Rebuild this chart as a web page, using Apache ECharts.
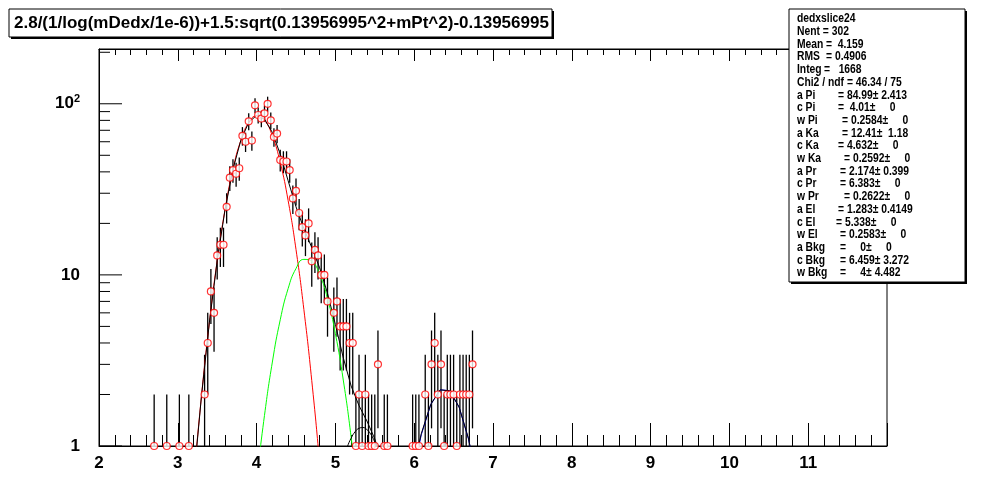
<!DOCTYPE html>
<html>
<head>
<meta charset="utf-8">
<title>dedxslice24</title>
<script src="https://cdn.jsdelivr.net/npm/echarts@6/dist/echarts.min.js"></script>
<style>
  html, body { margin: 0; padding: 0; background: #fff; }
  #chart { width: 986px; height: 497px; }
</style>
</head>
<body>
<div id="chart"></div>
<script>
// histogram dedxslice24, bin width 0.04, empty bins left out
const binCenters = [2.70, 2.86, 3.02, 3.14, 3.34, 3.38, 3.42, 3.46, 3.50, 3.54, 3.58, 3.62, 3.66, 3.70, 3.74, 3.78,
  3.82, 3.86, 3.90, 3.94, 3.98, 4.02, 4.06, 4.10, 4.14, 4.18, 4.22, 4.26, 4.30, 4.34, 4.38, 4.42, 4.46, 4.50,
  4.54, 4.58, 4.62, 4.66, 4.70, 4.74, 4.78, 4.82, 4.86, 4.90, 4.98, 5.02, 5.06, 5.10, 5.14, 5.18, 5.22, 5.26,
  5.30, 5.34, 5.38, 5.42, 5.46, 5.50, 5.54, 5.62, 5.66, 5.98, 6.02, 6.06, 6.14, 6.18, 6.22, 6.26, 6.30, 6.34,
  6.38, 6.42, 6.46, 6.50, 6.54, 6.58, 6.62, 6.66, 6.70, 6.74];
const binCounts = [1, 1, 1, 1, 2, 4, 8, 6, 13, 15, 15, 25, 37, 41, 39, 42,
  65, 60, 79, 61, 98, 86, 82, 88, 100, 80, 64, 67, 47, 46, 46, 41, 28, 31,
  23, 19, 17, 20, 12, 14, 13, 10, 10, 7, 6, 7, 5, 5, 5, 4, 4, 1,
  2, 1, 2, 1, 1, 1, 3, 1, 1, 1, 1, 1, 2, 1, 3, 4, 2, 3,
  1, 2, 2, 2, 1, 2, 2, 2, 2, 3];

// fit curves
const totalX = [3.2, 3.3, 3.4, 3.5, 3.6, 3.7, 3.8, 3.9, 4.0, 4.1, 4.2, 4.3, 4.4, 4.5, 4.6, 4.7, 4.8, 4.9, 5.0,
  5.1, 5.2, 5.3, 5.4, 5.5, 5.6, 5.7, 5.8, 5.9, 5.97, 6.09, 6.21, 6.33, 6.45, 6.57, 6.69, 6.81, 6.93];
const totalY = [0.62, 1.95, 5.24, 12.12, 24.15, 41.41, 61.17, 77.86, 85.57, 81.49, 67.96, 50.74, 35.53, 25.0,
  18.62, 14.46, 11.0, 7.80, 5.13, 3.28, 2.24, 1.72, 1.40, 1.10, 0.78, 0.55, 0.44, 0.52, 0.69, 1.18, 1.75,
  2.13, 2.10, 1.69, 1.10, 0.58, 0.25];
const piX = [3.2, 3.3, 3.4, 3.5, 3.6, 3.7, 3.8, 3.9, 4.0, 4.1, 4.2, 4.3, 4.4, 4.5, 4.6, 4.7, 4.8, 4.9];
const piY = [0.624, 1.95, 5.24, 12.12, 24.14, 41.39, 61.10, 77.63, 84.93, 79.98, 64.86, 45.28, 27.21, 14.08,
  6.27, 2.41, 0.794, 0.226];
const kaX = [4.0, 4.1, 4.2, 4.3, 4.4, 4.5, 4.6, 4.7, 4.8, 4.9, 5.0, 5.1, 5.2, 5.3];
const kaY = [0.635, 1.509, 3.095, 5.464, 8.315, 10.90, 12.32, 11.99, 10.06, 7.27, 4.53, 2.43, 1.124, 0.448];
const elX = [5.10, 5.15, 5.20, 5.25, 5.30, 5.35, 5.40, 5.45, 5.50, 5.55, 5.60];
const elY = [0.839, 0.985, 1.112, 1.211, 1.269, 1.282, 1.247, 1.168, 1.054, 0.916, 0.767];
const prX = [5.85, 5.97, 6.09, 6.21, 6.33, 6.45, 6.57, 6.69, 6.81, 6.93];
const prY = [0.30, 0.629, 1.164, 1.749, 2.130, 2.104, 1.686, 1.095, 0.577, 0.247];

const xTickLabels = ['2', '3', '4', '5', '6', '7', '8', '9', '10', '11'];
const yMajorTicks = [1, 10, 100];
const yMinorTicks = [2, 3, 4, 5, 6, 7, 8, 9, 20, 30, 40, 50, 60, 70, 80, 90, 200];

const titleText = '2.8/(1/log(mDedx/1e-6))+1.5:sqrt(0.13956995^2+mPt^2)-0.13956995';
const statsNames = ['dedxslice24', 'Nent = 302', 'Mean', 'RMS', 'Integ', 'Chi2 / ndf = 46.34 / 75',
  'a Pi', 'c Pi', 'w Pi', 'a Ka', 'c Ka', 'w Ka', 'a Pr', 'c Pr', 'w Pr', 'a El', 'c El', 'w El',
  'a Bkg', 'c Bkg', 'w Bkg'];
const statsValues = ['', '', '=  4.159', '= 0.4906', '=   1668', '',
  '= 84.99\u00b1 2.413', '=  4.01\u00b1     0', '= 0.2584\u00b1     0',
  '= 12.41\u00b1  1.18', '= 4.632\u00b1     0', '= 0.2592\u00b1     0',
  '= 2.174\u00b1 0.399', '= 6.383\u00b1     0', '= 0.2622\u00b1     0',
  '= 1.283\u00b1 0.4149', '= 5.338\u00b1     0', '= 0.2583\u00b1     0',
  '=     0\u00b1     0', '= 6.459\u00b1 3.272', '=     4\u00b1 4.482'];
// x where the "=" of each stats line starts (layout only)
const statsEqX = [0, 0, 826, 826, 824, 0, 838, 838, 842, 842, 838, 844, 840, 840, 844, 838, 836, 840, 840, 840, 840];

const xMin = 2, xMax = 12, yMin = 1, yMax = 209;
const labelFont = '"Liberation Sans", Arial, Helvetica, sans-serif';
const statsFont = 'bold 12px "Liberation Sans", Arial, sans-serif';
const statsScale = 0.86;

const zip = (xs, ys) => xs.map((x, i) => [x, ys[i]]);
const hist = zip(binCenters, binCounts);

function fitLine(name, xs, ys, color, smooth) {
  return {
    name: name, type: 'line', data: zip(xs, ys), showSymbol: false, smooth: smooth,
    clip: true, z: 5, silent: true,
    lineStyle: { color: color, width: 1 }
  };
}

const chart = echarts.init(document.getElementById('chart'));

const statsGraphics = [];
statsNames.forEach((name, i) => {
  const y = 19 + i * 12.7;
  statsGraphics.push({ type: 'text', z: 101, x: 797, y: y, scaleX: statsScale,
    style: { text: name, x: 0, y: 0, fill: '#000', font: statsFont, verticalAlign: 'middle' } });
  if (statsValues[i]) {
    statsGraphics.push({ type: 'text', z: 101, x: statsEqX[i], y: y, scaleX: statsScale,
      style: { text: statsValues[i], x: 0, y: 0, fill: '#000', font: statsFont, verticalAlign: 'middle' } });
  }
});

const option = {
  animation: false,
  backgroundColor: '#fff',
  grid: { left: 99, right: 99, top: 49, bottom: 51, show: true, borderColor: '#000', borderWidth: 1 },
  xAxis: [{
    type: 'value', min: xMin, max: xMax, interval: 1,
    axisLine: { show: true, onZero: false, lineStyle: { color: '#000', width: 1 } },
    axisTick: { show: true, inside: true, length: 23, lineStyle: { color: '#000' } },
    minorTick: { show: true, splitNumber: 5, length: 11, lineStyle: { color: '#000' } },
    axisLabel: {
      formatter: v => xTickLabels[Math.round(v) - xMin] || '',
      color: '#000', fontSize: 17, fontWeight: 'bold', fontFamily: labelFont, margin: 9
    },
    splitLine: { show: false }
  }, {
    type: 'value', position: 'top', min: xMin, max: xMax, interval: 1,
    axisLine: { show: true, onZero: false, lineStyle: { color: '#000', width: 1 } },
    axisTick: { show: true, inside: true, length: 12, lineStyle: { color: '#000' } },
    minorTick: { show: true, splitNumber: 5, length: 6, lineStyle: { color: '#000' } },
    axisLabel: { show: false },
    splitLine: { show: false }
  }],
  yAxis: {
    type: 'log', logBase: 10, min: yMin, max: yMax,
    axisLine: { show: true, lineStyle: { color: '#000', width: 1 } },
    axisTick: { show: false },
    axisLabel: {
      margin: 19, color: '#000', showMaxLabel: false,
      formatter: v => {
        const r = Math.round(v);
        if (yMajorTicks.indexOf(r) < 0) return '';
        return r === 100 ? '{b|10}{s|2}' : '{b|' + r + '}';
      },
      rich: {
        b: { fontSize: 17, fontWeight: 'bold', fontFamily: labelFont, color: '#000' },
        s: { fontSize: 11, fontWeight: 'bold', fontFamily: labelFont, color: '#000', padding: [0, 0, 9, 0] }
      }
    },
    splitLine: { show: false }
  },
  series: [
    {
      // y axis ticks (log axis minor ticks at 2..9 of each decade)
      type: 'custom', silent: true, z: 3, clip: false,
      data: yMajorTicks.concat(yMinorTicks).map(v => [xMin, v]),
      renderItem: (params, api) => {
        const v = api.value(1);
        const p = api.coord([xMin, v]);
        const len = yMajorTicks.indexOf(v) >= 0 ? 23 : 11;
        return { type: 'line', shape: { x1: p[0], y1: p[1], x2: p[0] + len, y2: p[1] },
          style: { stroke: '#000', lineWidth: 1 } };
      }
    },
    {
      // error bars, sqrt(N)
      type: 'custom', silent: true, z: 4, clip: false,
      data: hist,
      renderItem: (params, api) => {
        const x = api.value(0), n = api.value(1), e = Math.sqrt(n);
        const p1 = api.coord([x, Math.max(n - e, yMin)]);
        const p2 = api.coord([x, Math.min(n + e, yMax)]);
        return { type: 'line', shape: { x1: p1[0], y1: p1[1], x2: p2[0], y2: p2[1] },
          style: { stroke: '#000', lineWidth: 1.3 } };
      }
    },
    {
      type: 'scatter', data: hist, symbol: 'circle', symbolSize: 7, z: 6, clip: false, silent: true,
      itemStyle: { color: '#fff', borderColor: '#ff0000', borderWidth: 1.2 }
    },
    fitLine('Pr', prX, prY, '#0000ff', false),
    fitLine('Pi', piX, piY, '#ff0000', true),
    fitLine('Ka', kaX, kaY, '#00ff00', true),
    fitLine('El', elX, elY, '#000000', true),
    fitLine('total', totalX, totalY, '#000000', false)
  ],
  graphic: [
    { type: 'rect', z: 100, shape: { x: 11, y: 11, width: 543, height: 28 }, style: { fill: '#000' } },
    { type: 'rect', z: 100, shape: { x: 9, y: 9, width: 543, height: 28 }, style: { fill: '#fff', stroke: '#000', lineWidth: 1 } },
    { type: 'text', z: 101, style: { text: titleText, x: 14, y: 23, fill: '#000',
      font: 'bold 17px ' + labelFont, verticalAlign: 'middle' } },
    { type: 'rect', z: 100, shape: { x: 791, y: 11, width: 176, height: 273 }, style: { fill: '#000' } },
    { type: 'rect', z: 100, shape: { x: 789, y: 9, width: 176, height: 273 }, style: { fill: '#fff', stroke: '#000', lineWidth: 1 } }
  ].concat(statsGraphics)
};

chart.setOption(option);
window.addEventListener('resize', () => chart.resize());
</script>
</body>
</html>
